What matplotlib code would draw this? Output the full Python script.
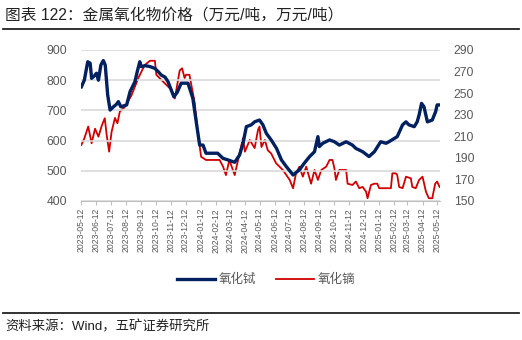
import pandas as pd
import matplotlib
matplotlib.use("Agg")
import matplotlib.pyplot as plt

plt.rcParams['font.family'] = ['Liberation Sans', 'Noto Sans CJK SC', 'DejaVu Sans']

# 氧化铽 价格（万元/吨，左轴）
tb_dates = ["2023-05-12", "2023-05-18", "2023-05-25", "2023-05-30", "2023-06-02", "2023-06-08",
            "2023-06-12", "2023-06-16", "2023-06-21", "2023-06-26", "2023-06-30", "2023-07-05",
            "2023-07-10", "2023-07-17", "2023-07-23", "2023-07-27", "2023-08-01", "2023-08-13",
            "2023-08-20", "2023-08-30", "2023-09-04", "2023-09-09", "2023-09-12", "2023-09-20",
            "2023-09-30", "2023-10-10", "2023-10-17", "2023-10-23", "2023-10-31", "2023-11-06",
            "2023-11-12", "2023-11-18", "2023-11-25", "2023-12-03", "2023-12-17", "2023-12-27",
            "2024-01-03", "2024-01-10", "2024-01-17", "2024-01-23", "2024-02-16", "2024-02-27",
            "2024-03-08", "2024-03-22", "2024-04-01", "2024-04-08", "2024-04-15", "2024-04-25",
            "2024-05-02", "2024-05-12", "2024-05-19", "2024-05-26", "2024-06-05", "2024-06-16",
            "2024-06-26", "2024-07-06", "2024-07-20", "2024-08-02", "2024-08-12", "2024-08-23",
            "2024-09-02", "2024-09-09", "2024-09-12", "2024-09-19", "2024-10-03", "2024-10-13",
            "2024-10-23", "2024-11-06", "2024-11-19", "2024-11-26", "2024-12-10", "2024-12-23",
            "2025-01-03", "2025-01-16", "2025-01-27", "2025-02-02", "2025-02-13", "2025-02-19",
            "2025-03-02", "2025-03-09", "2025-03-15", "2025-03-26", "2025-04-01", "2025-04-05",
            "2025-04-10", "2025-04-15", "2025-04-22", "2025-05-02", "2025-05-09", "2025-05-12",
            "2025-05-17"]
tb_price = [778, 800, 861, 856, 806, 815, 823, 800, 850, 865, 850, 751,
            701, 712, 720, 729, 712, 718, 762, 795, 830, 861, 845, 848,
            845, 839, 828, 817, 810, 795, 770, 745, 760, 790, 790, 740,
            662, 585, 585, 558, 558, 541, 536, 528, 552, 590, 646, 652,
            662, 668, 652, 624, 602, 574, 536, 514, 486, 503, 525, 547,
            563, 613, 580, 591, 602, 596, 585, 596, 585, 574, 563, 547,
            563, 596, 591, 596, 607, 613, 652, 662, 652, 646, 662, 685,
            723, 712, 662, 668, 696, 718, 718]

# 氧化镝 价格（万元/吨，右轴）
dy_dates = ["2023-05-12", "2023-05-18", "2023-05-26", "2023-06-02", "2023-06-09", "2023-06-16",
            "2023-06-23", "2023-06-29", "2023-07-03", "2023-07-08", "2023-07-13", "2023-07-20",
            "2023-07-25", "2023-07-30", "2023-08-09", "2023-08-23", "2023-09-06", "2023-09-19",
            "2023-09-30", "2023-10-10", "2023-10-13", "2023-10-27", "2023-11-13", "2023-11-20",
            "2023-11-30", "2023-12-05", "2023-12-10", "2023-12-13", "2023-12-20", "2023-12-31",
            "2024-01-06", "2024-01-13", "2024-01-23", "2024-02-20", "2024-02-27", "2024-03-04",
            "2024-03-11", "2024-03-22", "2024-03-29", "2024-04-08", "2024-04-12", "2024-04-22",
            "2024-05-02", "2024-05-09", "2024-05-12", "2024-05-16", "2024-05-23", "2024-05-29",
            "2024-06-05", "2024-06-15", "2024-06-29", "2024-07-13", "2024-07-20", "2024-07-26",
            "2024-08-02", "2024-08-09", "2024-08-16", "2024-08-26", "2024-09-02", "2024-09-09",
            "2024-09-16", "2024-09-26", "2024-10-03", "2024-10-09", "2024-10-13", "2024-10-16",
            "2024-10-23", "2024-11-06", "2024-11-09", "2024-11-19", "2024-11-26", "2024-12-03",
            "2024-12-10", "2024-12-17", "2024-12-20", "2024-12-27", "2025-01-03", "2025-01-09",
            "2025-01-13", "2025-02-06", "2025-02-09", "2025-02-16", "2025-02-19", "2025-02-23",
            "2025-03-02", "2025-03-09", "2025-03-19", "2025-03-22", "2025-03-29", "2025-04-05",
            "2025-04-12", "2025-04-19", "2025-04-25", "2025-05-02", "2025-05-08", "2025-05-12",
            "2025-05-17"]
dy_price = [202, 208, 219, 203.5, 217, 209.6, 220, 226.7, 211, 195.7, 214, 227,
            222, 233, 237, 248, 264, 276, 280, 280, 267, 260.6, 253, 245,
            271, 273, 264, 267, 267, 240.6, 214, 191, 188, 188, 182, 174,
            188, 174, 188, 208, 195.7, 206.5, 199, 216, 219, 200, 206.5, 197,
            194, 185, 178.7, 169.5, 161.8, 175.6, 181.8, 172.5, 181.8, 166, 178.7, 169.5,
            178.7, 181.8, 188, 188, 180, 169.5, 178.7, 178.7, 166, 164.8, 168, 161.8,
            163, 158.6, 152.5, 164.8, 166, 166, 161.8, 161.8, 175.6, 175.6, 174, 163,
            161.8, 172.5, 171, 163, 161.8, 169.5, 172.5, 158.6, 152.5, 152.5, 166, 168,
            163]

tick_dates = pd.date_range("2023-05-12", "2025-05-12", freq=pd.DateOffset(months=1))

navy = "#002060"
red = "#d00000"
grey = "#595959"

fig = plt.figure(figsize=(5.22, 3.40), dpi=100)
ax = fig.add_axes([0.155, 0.409, 0.688, 0.444])
ax2 = ax.twinx()

l1, = ax.plot(pd.to_datetime(tb_dates), tb_price, color=navy, lw=2.4, label="氧化铽", zorder=3)
l2, = ax2.plot(pd.to_datetime(dy_dates), dy_price, color=red, lw=1.3, label="氧化镝", zorder=2)
ax.set_zorder(ax2.get_zorder() + 1)
ax.patch.set_visible(False)

ax.set_ylim(400, 900)
ax.set_yticks(range(400, 901, 100))
ax2.set_ylim(150, 290)
ax2.set_yticks(range(150, 291, 20))
ax.set_xlim(pd.Timestamp("2023-05-11"), pd.Timestamp("2025-05-18"))
ax.set_xticks(tick_dates)
ax.set_xticklabels([d.strftime("%Y-%m-%d") for d in tick_dates], rotation=90,
                   fontsize=6.2, color=grey)

ax.grid(axis="y", color="#d9d9d9", lw=1.2)
ax.set_axisbelow(True)
for a in (ax, ax2):
    for s in a.spines.values():
        s.set_visible(False)
ax.spines["bottom"].set_visible(True)
ax.spines["bottom"].set_color("#bfbfbf")
ax.tick_params(axis="x", length=3, color="#bfbfbf", pad=2)
ax.tick_params(axis="y", length=0, labelsize=8.7, labelcolor=grey, pad=10)
ax2.tick_params(axis="y", length=0, labelsize=8.7, labelcolor=grey, pad=10)

fig.legend(handles=[l1, l2], loc="center", bbox_to_anchor=(0.51, 0.176), ncol=2,
           frameon=False, fontsize=9, labelcolor=grey, handlelength=3.0,
           columnspacing=1.6, handletextpad=0.3)

fig.text(0.01, 0.955, "图表 122：金属氧化物价格（万元/吨，万元/吨）", fontsize=11.3,
         color="#222222", va="center")
fig.add_artist(plt.Line2D([0.006, 0.994], [0.914, 0.914], color="#222222", lw=1.3))
fig.add_artist(plt.Line2D([0.006, 0.994], [0.079, 0.079], color="#222222", lw=1.3))
fig.text(0.01, 0.038, "资料来源：Wind，五矿证券研究所", fontsize=9.6, color="#222222",
         va="center")

fig.savefig("out.png", dpi=100)
